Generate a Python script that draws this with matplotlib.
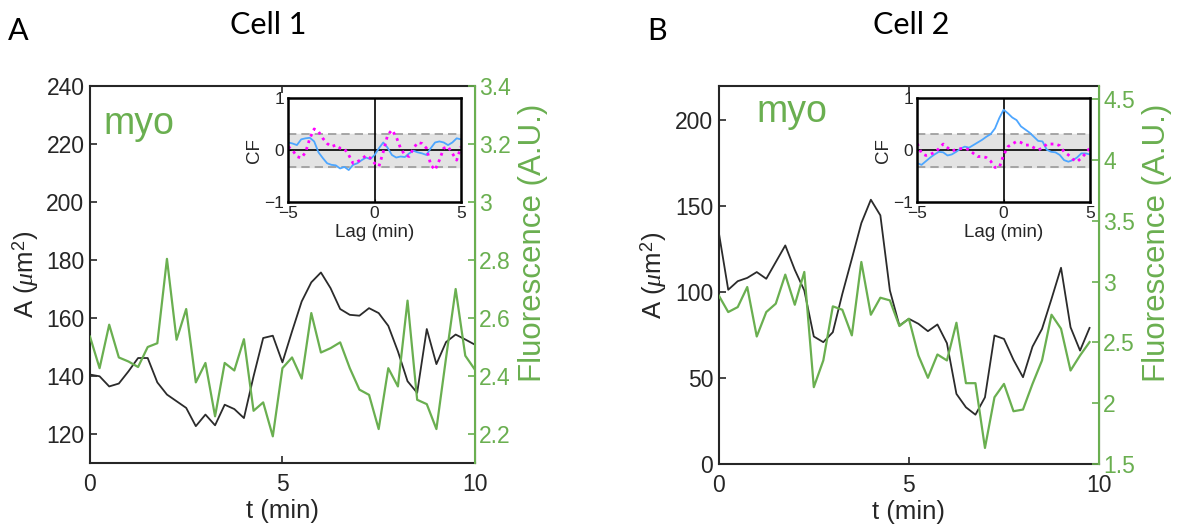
import matplotlib.pyplot as plt
import numpy as np

plt.rcParams['font.family'] = ['Liberation Sans', 'DejaVu Sans']
plt.rcParams['mathtext.fontset'] = 'custom'
plt.rcParams['mathtext.it'] = 'Liberation Serif:italic'
plt.rcParams['mathtext.rm'] = 'Liberation Sans'

# time (min)
t1 = np.linspace(0, 10, 41)
t2 = np.linspace(0, 9.75, 40)
lag = np.linspace(-5, 5, 41)

# Cell 1
area1 = [140.5, 139.9, 136.4, 137.4, 141.6, 146.2, 146.2, 137.8, 133.6, 131.3,
         129.0, 122.7, 126.7, 123.0, 130.1, 128.6, 125.5, 139.9, 153.1, 153.9,
         144.7, 155.4, 165.7, 172.3, 175.7, 170.3, 163.1, 161.1, 160.8, 163.4,
         161.7, 157.3, 148.5, 138.2, 134.2, 156.2, 144.1, 151.7, 154.3, 152.6,
         150.8]
fluo1 = [2.536, 2.427, 2.577, 2.464, 2.450, 2.431, 2.500, 2.513, 2.804, 2.525,
         2.631, 2.378, 2.445, 2.261, 2.445, 2.419, 2.527, 2.280, 2.309, 2.192,
         2.427, 2.464, 2.391, 2.617, 2.481, 2.496, 2.516, 2.427, 2.353, 2.335,
         2.217, 2.427, 2.364, 2.660, 2.318, 2.303, 2.217, 2.462, 2.700, 2.470,
         2.422]
cf_blue1 = [0.15, 0.13, 0.10, 0.21, 0.23, 0.24, 0.17, -0.04, -0.15, -0.25,
            -0.28, -0.29, -0.35, -0.32, -0.38, -0.28, -0.25, -0.19, -0.14, -0.17,
            -0.09, 0.04, 0.15, 0.05, -0.09, -0.14, -0.12, -0.13, -0.06, -0.01,
            -0.04, -0.06, -0.09, 0.04, 0.15, 0.17, 0.15, 0.10, 0.15, 0.23, 0.21]
cf_mag1 = [0.07, 0.0, -0.12, -0.15, -0.04, 0.23, 0.41, 0.36, 0.23, 0.13,
           0.07, 0.10, 0.04, 0.03, -0.09, -0.25, -0.22, -0.17, -0.10, -0.15,
           -0.25, -0.31, -0.03, 0.29, 0.39, 0.26, 0.04, -0.09, -0.12, 0.04,
           0.15, 0.13, 0.04, -0.28, -0.38, -0.19, 0.04, 0.07, -0.06, -0.19, 0.07]

# Cell 2
area2 = [135.0, 101.4, 106.4, 108.3, 111.7, 107.8, 117.5, 127.2, 113.0, 101.0,
         74.2, 70.9, 76.7, 99.0, 119.4, 140.2, 153.8, 144.7, 101.0, 80.6,
         84.5, 81.6, 77.3, 81.2, 70.3, 40.8, 33.0, 28.7, 38.8, 74.8,
         72.8, 60.6, 50.5, 68.3, 78.6, 96.1, 114.2, 79.6, 66.0, 79.2]
fluo2 = [2.887, 2.750, 2.791, 2.956, 2.549, 2.750, 2.819, 3.058, 2.810, 3.080,
         2.132, 2.352, 2.797, 2.769, 2.558, 3.162, 2.728, 2.868, 2.846, 2.635,
         2.695, 2.393, 2.209, 2.401, 2.352, 2.662, 2.165, 2.165, 1.632, 2.049,
         2.159, 1.934, 1.948, 2.159, 2.352, 2.728, 2.613, 2.269, 2.393, 2.503]
cf_blue2 = [-0.25, -0.28, -0.21, -0.14, -0.08, -0.03, -0.04, -0.10, -0.08, -0.03,
            0.03, 0.07, 0.05, 0.10, 0.15, 0.20, 0.26, 0.31, 0.42, 0.62,
            0.78, 0.71, 0.63, 0.58, 0.46, 0.40, 0.34, 0.26, 0.18, 0.17,
            0.01, -0.03, -0.04, -0.09, -0.19, -0.22, -0.19, -0.14, -0.06, -0.06, -0.08]
cf_mag2 = [0.13, -0.06, -0.10, -0.08, -0.04, 0.03, 0.12, 0.05, -0.01, 0.01,
           0.03, 0.04, 0.01, -0.06, -0.12, -0.12, -0.14, -0.21, -0.33, -0.33,
           -0.09, 0.07, 0.12, 0.17, 0.15, 0.10, 0.10, 0.05, 0.01, 0.04,
           0.12, 0.12, 0.12, 0.09, -0.03, -0.09, -0.17, -0.22, -0.15, -0.06, 0.05]

conf = 0.32

dark = '#262626'
green = '#6aaf50'
blue = '#4da6ff'
magenta = '#ff00ff'

fig = plt.figure(figsize=(11.79, 5.28), dpi=100)


def panel(rect, inset_rect, t, area, fluo, cfb, cfm, ylim, yticks, ylim2, yticks2, ylabels2, myo_xy):
    ax = fig.add_axes(rect)
    ax.plot(t, area, color='#2b2b2b', lw=1.3)
    ax.set_xlim(0, 10)
    ax.set_ylim(*ylim)
    ax.set_xticks([0, 5, 10])
    ax.set_yticks(yticks)
    ax.tick_params(direction='in', length=5, width=1.2, labelsize=16.5, colors=dark, top=True)
    ax.tick_params(axis='x', pad=7)
    ax.tick_params(axis='y', pad=4)
    for s in ['left', 'top', 'bottom']:
        ax.spines[s].set_color(dark)
        ax.spines[s].set_linewidth(1.5)
    ax.set_xlabel('t (min)', fontsize=18.5, color=dark, labelpad=2)
    ax.set_ylabel(r'A ($\mu$m$^2$)', fontsize=18.5, color=dark, labelpad=4)
    ax.text(myo_xy[0], myo_xy[1], 'myo', color=green, fontsize=27,
            transform=ax.transAxes, va='center', ha='left')

    ax2 = ax.twinx()
    ax2.plot(t, fluo, color=green, lw=1.6)
    ax2.set_ylim(*ylim2)
    ax2.set_yticks(yticks2)
    ax2.set_yticklabels(ylabels2)
    ax2.tick_params(direction='in', length=5, width=1.2, labelsize=16.5, colors=green, pad=3)
    ax2.spines['right'].set_color(green)
    ax2.spines['right'].set_linewidth(1.5)
    ax2.spines['left'].set_visible(False)
    ax2.spines['top'].set_visible(False)
    ax2.spines['bottom'].set_visible(False)
    ax2.set_ylabel('Fluorescence (A.U.)', fontsize=22.5, color=green, labelpad=5)
    ax2.yaxis.label.set_y(0.585)

    ins = fig.add_axes(inset_rect)
    ins.axhspan(-conf, conf, color='#e3e3e3', zorder=0)
    ins.axhline(conf, color='#999999', ls=(0, (5, 3)), lw=1.2)
    ins.axhline(-conf, color='#999999', ls=(0, (5, 3)), lw=1.2)
    ins.axhline(0, color='black', lw=1.2)
    ins.axvline(0, color='black', lw=1.2)
    ins.plot(lag, cfb, color=blue, lw=1.3)
    ins.plot(lag, cfm, color=magenta, lw=2, ls=(0, (1, 1.5)))
    ins.set_xlim(-5, 5)
    ins.set_ylim(-1, 1)
    ins.set_xticks([-5, 0, 5])
    ins.set_yticks([-1, 0, 1])
    ins.tick_params(direction='in', length=2, labelsize=12.5, colors=dark, pad=3)
    for s in ins.spines.values():
        s.set_linewidth(1.8)
        s.set_color('black')
    ins.set_xlabel('Lag (min)', fontsize=13.5, color=dark, labelpad=2)
    ins.set_ylabel('CF', fontsize=13.5, color=dark, labelpad=1)
    return ax


panel([0.0763, 0.1231, 0.3265, 0.714], [0.2445, 0.6169, 0.1465, 0.197],
      t1, area1, fluo1, cf_blue1, cf_mag1,
      (110, 240), [120, 140, 160, 180, 200, 220, 240],
      (2.1, 3.4), [2.2, 2.4, 2.6, 2.8, 3.0, 3.2, 3.4],
      ['2.2', '2.4', '2.6', '2.8', '3', '3.2', '3.4'], (0.034, 0.90))

panel([0.6096, 0.1212, 0.3226, 0.716], [0.778, 0.6169, 0.1465, 0.197],
      t2, area2, fluo2, cf_blue2, cf_mag2,
      (0, 220), [0, 50, 100, 150, 200],
      (1.5, 4.61), [1.5, 2, 2.5, 3, 3.5, 4, 4.5],
      ['1.5', '2', '2.5', '3', '3.5', '4', '4.5'], (0.10, 0.93))

title_font = ['Lato', 'DejaVu Sans']
fig.text(268 / 1179, 1 - 25 / 528, 'Cell 1', fontsize=22, family=title_font, ha='center', va='center')
fig.text(911 / 1179, 1 - 25 / 528, 'Cell 2', fontsize=22, family=title_font, ha='center', va='center')
fig.text(18 / 1179, 1 - 31 / 528, 'A', fontsize=22, family=title_font, ha='center', va='center')
fig.text(657 / 1179, 1 - 31 / 528, 'B', fontsize=22, family=title_font, ha='center', va='center')

fig.savefig('out.png', dpi=100)
